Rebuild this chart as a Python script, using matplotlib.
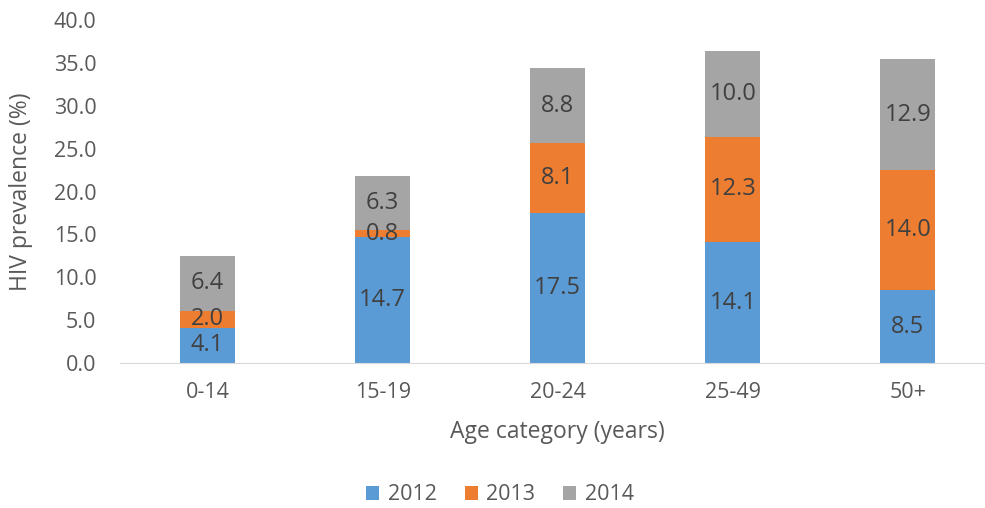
import numpy as np
import matplotlib
matplotlib.use("Agg")
import matplotlib.pyplot as plt

plt.rcParams['font.family'] = ['Open Sans', 'DejaVu Sans']

categories = ['0-14', '15-19', '20-24', '25-49', '50+']
years = ['2012', '2013', '2014']
v2012 = [4.1, 14.7, 17.5, 14.1, 8.5]
v2013 = [2.0, 0.8, 8.1, 12.3, 14.0]
v2014 = [6.4, 6.3, 8.8, 10.0, 12.9]
colors = ['#5B9BD5', '#ED7D31', '#A5A5A5']

fig = plt.figure(figsize=(9.85, 5.08), dpi=100)
ax = fig.add_axes([120/985, 145/508, 865/985, 343/508])

x = np.arange(len(categories))
bottom = np.zeros(len(categories))
for vals, yr, c in zip([v2012, v2013, v2014], years, colors):
    vals = np.array(vals)
    ax.bar(x, vals, 0.314, bottom=bottom, color=c, label=yr, zorder=2)
    for xi, b, v in zip(x, bottom, vals):
        ax.text(xi, b + v / 2, '%.1f' % v, ha='center', va='center',
                fontsize=17, color='#404040', zorder=3)
    bottom += vals

ax.set_xlim(-0.5, 4.44)
ax.set_ylim(0, 40)
ax.set_yticks(np.arange(0, 40.1, 5))
ax.set_yticklabels(['%.1f' % t for t in np.arange(0, 40.1, 5)])
ax.set_xticks(x)
ax.set_xticklabels(categories)
ax.tick_params(axis='both', length=0, labelsize=15.5, colors='#595959')
ax.tick_params(axis='x', pad=14)
ax.tick_params(axis='y', pad=17)
for s in ['top', 'right', 'left']:
    ax.spines[s].set_visible(False)
ax.spines['bottom'].set_color('#D9D9D9')

ax.set_xlabel('Age category (years)', fontsize=16.5, color='#595959')
ax.set_ylabel('HIV prevalence (%)', fontsize=16.5, color='#595959')
ax.xaxis.set_label_coords(0.506, -0.165)
ax.yaxis.set_label_coords(-0.1, 0.5)

ax.legend(loc='center', bbox_to_anchor=(500/985, 13/508),
          bbox_transform=fig.transFigure, ncol=3, frameon=False,
          fontsize=15.5, labelcolor='#595959', handlelength=0.6,
          handleheight=0.6, handletextpad=0.4, columnspacing=1.3)

fig.savefig('out.png', dpi=100)
